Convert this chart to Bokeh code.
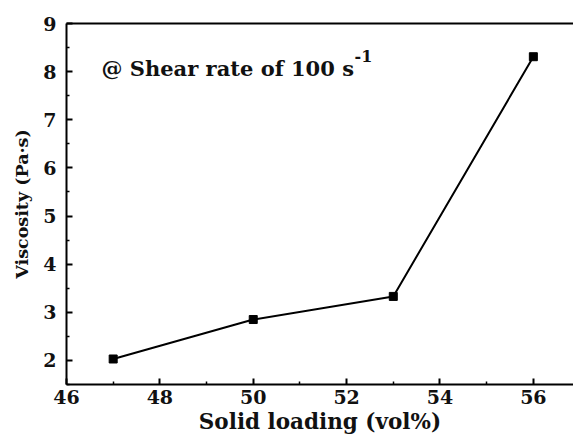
from bokeh.plotting import figure
from bokeh.models import LinearAxis, Label, Range1d, FixedTicker
from bokeh.embed import file_html
from bokeh.resources import INLINE

solid_loading = [47, 50, 53, 56]
viscosity = [2.03, 2.85, 3.33, 8.31]
x_ticks = [46, 48, 50, 52, 54, 56]
x_minor = [47, 49, 51, 53, 55]
y_ticks = [2, 3, 4, 5, 6, 7, 8, 9]
y_minor = [1.5, 2.5, 3.5, 4.5, 5.5, 6.5, 7.5, 8.5]
x_title = "Solid loading (vol%)"
y_title = "Viscosity (Pa·s)"

FONT = "DejaVu Serif"
TXT = "#111111"

p = figure(width=573, height=439, output_backend="svg", toolbar_location=None,
           x_range=Range1d(46, 56.86), y_range=Range1d(1.5, 9.0),
           x_axis_location=None, y_axis_location=None,
           min_border_left=66, min_border_top=23, min_border_bottom=55, min_border_right=0)
p.outline_line_color = None
p.grid.visible = False
p.background_fill_color = "white"
p.border_fill_color = "white"

def style(ax, label_size):
    ax.axis_line_color = "black"
    ax.axis_line_width = 2
    ax.major_tick_in = 6
    ax.major_tick_out = 0
    ax.minor_tick_in = 3
    ax.minor_tick_out = 0
    ax.major_tick_line_width = 2
    ax.minor_tick_line_width = 1.5
    ax.major_label_text_font = FONT
    ax.major_label_text_font_style = "bold"
    ax.major_label_text_font_size = "19px"
    ax.major_label_text_color = TXT
    ax.axis_label_text_font = FONT
    ax.axis_label_text_font_style = "bold"
    ax.axis_label_text_font_size = label_size
    ax.axis_label_text_color = TXT

xa = LinearAxis(ticker=FixedTicker(ticks=x_ticks, minor_ticks=x_minor), axis_label=x_title)
style(xa, "21.5px")
xa.major_label_standoff = 5
xa.axis_label_standoff = 2
p.add_layout(xa, "below")

ya = LinearAxis(ticker=FixedTicker(ticks=y_ticks, minor_ticks=y_minor), axis_label=y_title)
style(ya, "17.5px")
ya.major_label_standoff = 10
ya.axis_label_standoff = 8
p.add_layout(ya, "left")

top = LinearAxis(ticker=FixedTicker(ticks=[]), major_label_text_font_size="0px")
top.axis_line_color = "black"
top.axis_line_width = 2
top.major_tick_line_color = None
top.minor_tick_line_color = None
p.add_layout(top, "above")

p.line(solid_loading, viscosity, line_color="black", line_width=2)
p.scatter(solid_loading, viscosity, marker="square", size=8, fill_color="black", line_color="black")

p.add_layout(Label(x=35, y=316, x_units="screen", y_units="screen",
                   text="@ Shear rate of 100 s", text_font=FONT, text_font_style="bold",
                   text_font_size="21px", text_color=TXT, text_baseline="alphabetic"))
p.add_layout(Label(x=288, y=329, x_units="screen", y_units="screen",
                   text="-1", text_font=FONT, text_font_style="bold",
                   text_font_size="16px", text_color=TXT, text_baseline="alphabetic"))

open("out.html", "w").write(file_html(p, INLINE))
